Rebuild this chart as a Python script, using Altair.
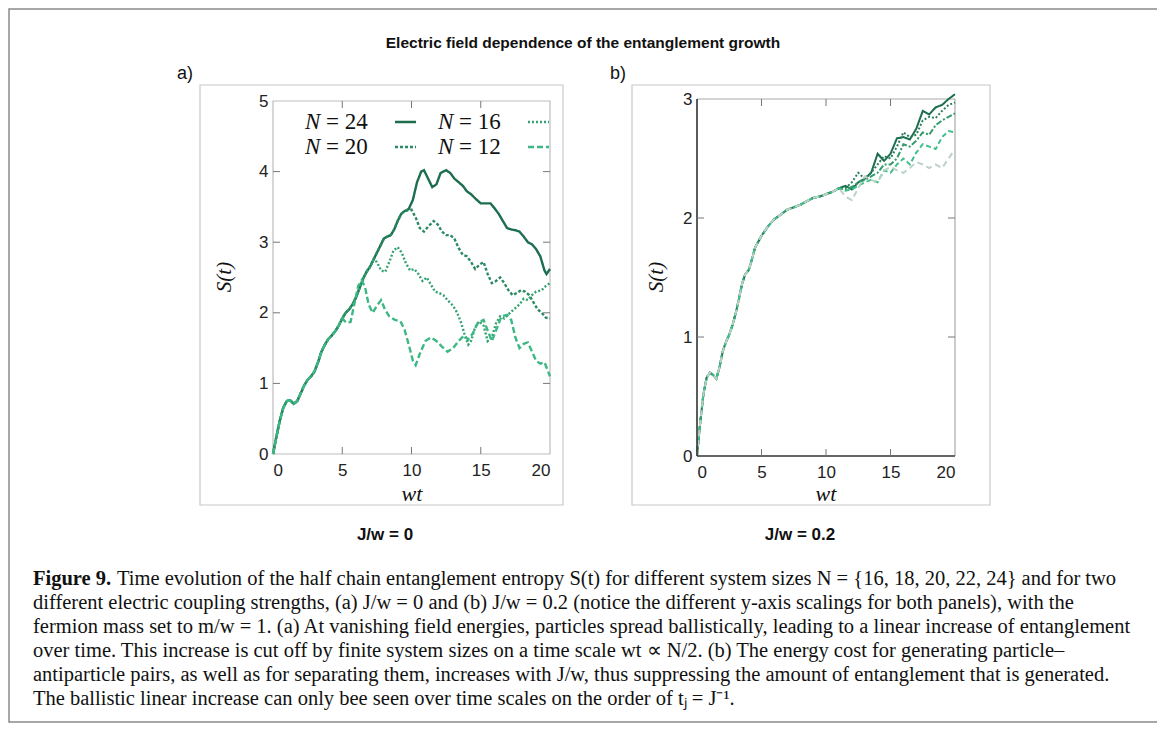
import altair as alt
import pandas as pd

# ---------------- panel (a): J/w = 0 ----------------
t_rise_a = [0, 0.25, 0.5, 0.75, 1.0, 1.25, 1.5, 1.75, 2.0, 2.25, 2.5, 2.75, 3.0,
            3.25, 3.5, 3.75, 4.0, 4.25, 4.5, 4.75, 5.0]
s_rise_a = [0, 0.25, 0.48, 0.66, 0.75, 0.76, 0.71, 0.75, 0.86, 0.97, 1.05, 1.1, 1.17,
            1.3, 1.45, 1.55, 1.63, 1.68, 1.74, 1.82, 1.92]
t_mid_a = [5.25, 5.5, 5.75, 6.0, 6.25, 6.5, 6.75, 7.0, 7.25]
s_mid_a = [2.0, 2.05, 2.12, 2.22, 2.35, 2.48, 2.58, 2.65, 2.75]
t_hi_a = [7.5, 7.75, 8.0, 8.25, 8.5, 8.75, 9.0, 9.25, 9.5]
s_hi_a = [2.85, 2.95, 3.05, 3.08, 3.1, 3.18, 3.3, 3.4, 3.44]

t_a24 = [9.8, 10.1, 10.4, 10.7, 10.9, 11.2, 11.5, 11.8, 12.1, 12.5, 12.8, 13.1, 13.4,
         13.7, 14.0, 14.3, 14.6, 15.0, 15.3, 15.7, 16.0, 16.3, 16.6, 16.9, 17.2, 17.5,
         17.8, 18.1, 18.4, 18.7, 19.0, 19.3, 19.6, 19.75, 20.0]
s_a24 = [3.47, 3.6, 3.85, 4.0, 4.02, 3.9, 3.78, 3.82, 3.98, 4.02, 3.98, 3.9, 3.85,
         3.8, 3.72, 3.68, 3.62, 3.55, 3.55, 3.55, 3.48, 3.4, 3.3, 3.2, 3.18, 3.17,
         3.15, 3.08, 3.0, 2.97, 2.9, 2.8, 2.6, 2.55, 2.62]

t_a20 = [9.75, 10.0, 10.3, 10.6, 10.9, 11.2, 11.6, 11.9, 12.2, 12.5, 12.8, 13.1, 13.4,
         13.7, 14.0, 14.3, 14.6, 14.9, 15.2, 15.5, 15.8, 16.1, 16.4, 16.7, 17.0, 17.3,
         17.6, 17.9, 18.2, 18.5, 18.8, 19.1, 19.4, 19.7, 20.0]
s_a20 = [3.45, 3.46, 3.35, 3.2, 3.15, 3.22, 3.3, 3.25, 3.15, 3.1, 3.1, 3.05, 2.92,
         2.82, 2.8, 2.72, 2.62, 2.68, 2.72, 2.55, 2.42, 2.45, 2.5, 2.42, 2.32, 2.25,
         2.28, 2.32, 2.3, 2.25, 2.15, 2.05, 2.0, 1.93, 1.92]

t_a16 = [7.5, 7.8, 8.1, 8.4, 8.7, 9.0, 9.3, 9.6, 9.9, 10.2, 10.5, 10.8, 11.1, 11.4,
         11.7, 12.0, 12.3, 12.6, 13.0, 13.3, 13.6, 13.9, 14.1, 14.3, 14.6, 14.9, 15.2,
         15.5, 15.8, 16.1, 16.4, 16.7, 17.0, 17.4, 17.8, 18.1, 18.4, 18.7, 19.0, 19.4,
         19.7, 20.0]
s_a16 = [2.72, 2.6, 2.58, 2.72, 2.88, 2.93, 2.85, 2.7, 2.6, 2.62, 2.55, 2.45, 2.5, 2.4,
         2.3, 2.28, 2.25, 2.18, 2.1, 2.0, 1.85, 1.65, 1.55, 1.6, 1.8, 1.88, 1.82,
         1.6, 1.65, 1.85, 1.95, 1.92, 1.98, 2.05, 2.12, 2.2, 2.18, 2.25, 2.3, 2.32,
         2.38, 2.42]

t_a12 = [5.3, 5.6, 5.9, 6.15, 6.4, 6.65, 6.9, 7.2, 7.5, 7.8, 8.1, 8.4, 8.8, 9.2, 9.5,
         9.8, 10.1, 10.3, 10.6, 11.0, 11.4, 11.8, 12.2, 12.6, 13.0, 13.4, 13.8, 14.1,
         14.4, 14.8, 15.2, 15.5, 15.8, 16.1, 16.5, 16.9, 17.2, 17.5, 17.8, 18.1, 18.4,
         18.7, 19.0, 19.3, 19.6, 19.8, 20.0]
s_a12 = [1.86, 1.87, 2.15, 2.38, 2.46, 2.36, 2.12, 2.0, 2.1, 2.18, 2.04, 1.95, 1.9, 1.88,
         1.76, 1.55, 1.32, 1.26, 1.42, 1.6, 1.65, 1.6, 1.52, 1.45, 1.5, 1.6, 1.68, 1.62,
         1.7, 1.86, 1.9, 1.75, 1.6, 1.75, 1.95, 1.97, 1.9, 1.65, 1.5, 1.56, 1.58,
         1.45, 1.32, 1.28, 1.3, 1.2, 1.1]

# ---------------- panel (b): J/w = 0.2 ----------------
t_rise_b = [0, 0.25, 0.5, 0.75, 1.0, 1.25, 1.5, 1.75, 2.0, 2.25, 2.5, 2.75, 3.0, 3.25,
            3.5, 3.75, 4.0, 4.25, 4.5, 4.75, 5.0, 5.5, 6.0, 6.5, 7.0, 7.5, 8.0, 8.5,
            9.0, 9.5, 10.0, 10.5, 11.0]
s_rise_b = [0, 0.28, 0.52, 0.66, 0.7, 0.68, 0.65, 0.75, 0.88, 0.96, 1.02, 1.1, 1.2, 1.32,
            1.45, 1.53, 1.56, 1.65, 1.75, 1.8, 1.85, 1.93, 1.99, 2.03, 2.07, 2.09, 2.11,
            2.14, 2.17, 2.18, 2.2, 2.22, 2.25]
t_tail_b = [11.5, 12.0, 12.5, 13.0, 13.5, 14.0, 14.5, 15.0, 15.5, 16.0, 16.5, 17.0,
            17.5, 18.0, 18.5, 19.0, 19.5, 20.0]
s_b24 = [2.27, 2.24, 2.3, 2.33, 2.38, 2.54, 2.48, 2.54, 2.67, 2.68, 2.66, 2.75, 2.9,
         2.87, 2.93, 2.95, 3.0, 3.04]
s_b22 = [2.25, 2.3, 2.38, 2.33, 2.38, 2.45, 2.52, 2.5, 2.6, 2.72, 2.68, 2.7, 2.82,
         2.85, 2.84, 2.9, 2.95, 2.97]
s_b20 = [2.24, 2.26, 2.3, 2.32, 2.35, 2.38, 2.45, 2.45, 2.5, 2.62, 2.6, 2.65, 2.72,
         2.7, 2.78, 2.82, 2.85, 2.88]
s_b18 = [2.23, 2.24, 2.27, 2.3, 2.32, 2.3, 2.4, 2.38, 2.45, 2.5, 2.45, 2.55, 2.62,
         2.6, 2.58, 2.68, 2.73, 2.72]
s_b16 = [2.18, 2.15, 2.25, 2.35, 2.32, 2.3, 2.4, 2.43, 2.4, 2.38, 2.42, 2.47, 2.45,
         2.42, 2.45, 2.42, 2.5, 2.58]

series_a = ["N = 24", "N = 20", "N = 16", "N = 12"]
series_b = ["N = 24", "N = 22", "N = 20", "N = 18", "N = 16"]

rows_a = []
for name, t, s in [
    ("N = 24", t_rise_a + t_mid_a + t_hi_a + t_a24, s_rise_a + s_mid_a + s_hi_a + s_a24),
    ("N = 20", t_rise_a + t_mid_a + t_hi_a + t_a20, s_rise_a + s_mid_a + s_hi_a + s_a20),
    ("N = 16", t_rise_a + t_mid_a + t_a16, s_rise_a + s_mid_a + s_a16),
    ("N = 12", t_rise_a + t_a12, s_rise_a + s_a12),
]:
    rows_a += [{"N": name, "t": a, "S": b} for a, b in zip(t, s)]
df_a = pd.DataFrame(rows_a)

rows_b = []
for name, s in [("N = 24", s_b24), ("N = 22", s_b22), ("N = 20", s_b20),
                ("N = 18", s_b18), ("N = 16", s_b16)]:
    t = t_rise_b + t_tail_b
    v = s_rise_b + s
    rows_b += [{"N": name, "t": a, "S": b} for a, b in zip(t, v)]
df_b = pd.DataFrame(rows_b)

x_ticks = [5, 10, 15]
y_ticks_a = [1, 2, 3, 4]
y_ticks_b = [1, 2]

W, H = 1149, 715
# plot-area pixel boxes (canvas coordinates)
AX0, AX1, AY0, AY1 = 265, 542, 93, 446
BX0, BX1, BY0, BY1 = 689, 947, 91, 448

LAB = dict(labelFontSize=17, labelFont="Liberation Sans", labelColor="#222222",
           domain=False, ticks=False, grid=False, title=None, format="d")

xa = alt.Scale(domain=[0, 20], range=[AX0, AX1], nice=False, zero=False)
ya = alt.Scale(domain=[0, 5], range=[AY1, AY0], nice=False, zero=False)
xb = alt.Scale(domain=[0, 20], range=[BX0, BX1], nice=False, zero=False)
yb = alt.Scale(domain=[0, 3], range=[BY1, BY0], nice=False, zero=False)

one = alt.Data(values=[{}])


def txt(x, y, s, size, font="Liberation Sans", weight="normal", style="normal",
        align="center", angle=0, color="#111111", baseline="middle"):
    kw = dict(align=align, baseline=baseline, font=font, fontSize=size,
              fontWeight=weight, fontStyle=style, color=color, text=s)
    if angle:
        kw["angle"] = angle
    return alt.Chart(one).mark_text(**kw).encode(x=alt.value(x), y=alt.value(y))


def box(x0, y0, x1, y1, color, width=1.0):
    return alt.Chart(one).mark_rect(fill=None, stroke=color, strokeWidth=width).encode(
        x=alt.value(x0), x2=alt.value(x1), y=alt.value(y0), y2=alt.value(y1))


def hline(x0, x1, y, color, width=1.0, dash=None):
    kw = dict(color=color, strokeWidth=width)
    if dash:
        kw["strokeDash"] = dash
    return alt.Chart(one).mark_rule(**kw).encode(
        x=alt.value(x0), x2=alt.value(x1), y=alt.value(y))


def vline(x, y0, y1, color, width=1.0):
    return alt.Chart(one).mark_rule(color=color, strokeWidth=width).encode(
        x=alt.value(x), y=alt.value(y0), y2=alt.value(y1))


# ---------------- panel (a) ----------------
col_a = ["#1d6e4e", "#2a8a62", "#33a271", "#3cb884"]
dash_a = [[1, 0], [3, 2], [2, 2], [6, 3]]

lines_a = alt.Chart(df_a).mark_line(strokeWidth=2.4).encode(
    x=alt.X("t:Q", scale=xa,
            axis=alt.Axis(orient="bottom", offset=AY1 - H, values=[0, 5, 10, 15, 20],
                          labelPadding=8, **LAB)),
    y=alt.Y("S:Q", scale=ya,
            axis=alt.Axis(orient="left", offset=-AX0, values=[0, 1, 2, 3, 4, 5],
                          labelPadding=5, **LAB)),
    color=alt.Color("N:N", scale=alt.Scale(domain=series_a, range=col_a), legend=None),
    strokeDash=alt.StrokeDash("N:N", scale=alt.Scale(domain=series_a, range=dash_a),
                              legend=None),
    order=alt.Order("t:Q"),
)

tk_a = pd.DataFrame({"v": x_ticks})
tky_a = pd.DataFrame({"v": y_ticks_a})
TK = "#777777"
ticks_a = [
    alt.Chart(tk_a).mark_rule(color=TK).encode(
        x=alt.X("v:Q", scale=xa), y=alt.value(AY1), y2=alt.value(AY1 - 7)),
    alt.Chart(tk_a).mark_rule(color=TK).encode(
        x=alt.X("v:Q", scale=xa), y=alt.value(AY0), y2=alt.value(AY0 + 7)),
    alt.Chart(tky_a).mark_rule(color=TK).encode(
        y=alt.Y("v:Q", scale=ya), x=alt.value(AX0), x2=alt.value(AX0 + 7)),
    alt.Chart(tky_a).mark_rule(color=TK).encode(
        y=alt.Y("v:Q", scale=ya), x=alt.value(AX1), x2=alt.value(AX1 - 7)),
]

panel_a = alt.layer(box(AX0, AY0, AX1, AY1, "#bdbdbd", 1.2), lines_a, *ticks_a)

# ---------------- panel (b) ----------------
col_b = ["#1d6e4e", "#2a7f5b", "#33996b", "#3fbf8b", "#bcd2c7"]
dash_b = [[1, 0], [2, 2], [6, 2, 2, 2], [5, 3], [6, 4]]

lines_b = alt.Chart(df_b).mark_line(strokeWidth=2.0).encode(
    x=alt.X("t:Q", scale=xb,
            axis=alt.Axis(orient="bottom", offset=BY1 - H, values=[0, 5, 10, 15, 20],
                          labelPadding=8, **LAB)),
    y=alt.Y("S:Q", scale=yb,
            axis=alt.Axis(orient="left", offset=-BX0, values=[0, 1, 2, 3],
                          labelPadding=5, **LAB)),
    color=alt.Color("N:N", scale=alt.Scale(domain=series_b, range=col_b), legend=None),
    strokeDash=alt.StrokeDash("N:N", scale=alt.Scale(domain=series_b, range=dash_b),
                              legend=None),
    order=alt.Order("t:Q"),
)

tky_b = pd.DataFrame({"v": y_ticks_b})
ticks_b = [
    alt.Chart(tk_a).mark_rule(color=TK).encode(
        x=alt.X("v:Q", scale=xb), y=alt.value(BY1), y2=alt.value(BY1 - 7)),
    alt.Chart(tk_a).mark_rule(color=TK).encode(
        x=alt.X("v:Q", scale=xb), y=alt.value(BY0), y2=alt.value(BY0 + 7)),
    alt.Chart(tky_b).mark_rule(color=TK).encode(
        y=alt.Y("v:Q", scale=yb), x=alt.value(BX0), x2=alt.value(BX0 + 7)),
    alt.Chart(tky_b).mark_rule(color=TK).encode(
        y=alt.Y("v:Q", scale=yb), x=alt.value(BX1), x2=alt.value(BX1 - 7)),
]

panel_b = alt.layer(
    hline(BX0, BX1, BY0, "#aaaaaa", 1.2), vline(BX1, BY0, BY1, "#aaaaaa", 1.2),
    lines_b,
    hline(BX0, BX1, BY1, "#333333", 1.6), vline(BX0, BY0, BY1, "#333333", 1.6),
    *ticks_b)

# ---------------- decorations & text ----------------
SERIF = "Liberation Serif"
deco = [
    box(1, 1, 1152, 714, "#8a8a8a", 1.5),
    box(192, 77, 555, 497, "#c8c8c8", 1.2),
    box(624, 77, 982, 497, "#c8c8c8", 1.2),
    txt(575, 35, "Electric field dependence of the entanglement growth", 15.5, weight="bold"),
    txt(177, 66, "a)", 18),
    txt(610, 66, "b)", 18),
    txt(377, 527, "J/w = 0", 17, weight="bold"),
    txt(792, 527, "J/w = 0.2", 17, weight="bold"),
    txt(404, 486, "wt", 22, font=SERIF, style="italic"),
    txt(818, 486, "wt", 22, font=SERIF, style="italic"),
    txt(217, 269, "S(t)", 21, font=SERIF, style="italic", angle=270),
    txt(649, 269, "S(t)", 21, font=SERIF, style="italic", angle=270),
]

# legend of panel (a)
leg = []
leg_pos = [(297, 114), (297, 139), (430, 114), (430, 139)]
for (lx, ly), name, c, d in zip(leg_pos, series_a, col_a, dash_a):
    leg.append(txt(lx, ly, "N", 23, font=SERIF, style="italic", align="left"))
    leg.append(txt(lx + 21, ly, "= " + name.split("= ")[1], 23, font=SERIF, align="left"))
    leg.append(hline(lx + 90, lx + 111, ly, c, 2.4, d))

# caption
CAP = 20.5
cap_lines = [
    "different electric coupling strengths, (a) J/w = 0 and (b) J/w = 0.2 (notice the different y-axis scalings for both panels), with the",
    "fermion mass set to m/w = 1. (a) At vanishing field energies, particles spread ballistically, leading to a linear increase of entanglement",
    "over time. This increase is cut off by finite system sizes on a time scale wt \u221d N/2. (b) The energy cost for generating particle\u2013",
    "antiparticle pairs, as well as for separating them, increases with J/w, thus suppressing the amount of entanglement that is generated.",
    "The ballistic linear increase can only bee seen over time scales on the order of t\u2C7C = J\u207b\u00b9.",
]
cap = [
    txt(25, 571, "Figure 9.", CAP, font=SERIF, weight="bold", align="left"),
    txt(109, 571, "Time evolution of the half chain entanglement entropy S(t) for different system sizes N = {16, 18, 20, 22, 24} and for two",
        CAP, font=SERIF, align="left"),
]
for i, line in enumerate(cap_lines):
    cap.append(txt(25, 595 + 24 * i, line, CAP, font=SERIF, align="left"))

chart = alt.layer(
    panel_a, panel_b, *deco, *leg, *cap
).resolve_scale(
    x="independent", y="independent", color="independent", strokeDash="independent"
).properties(
    width=W, height=H, autosize="none", padding=0
).configure_view(stroke=None)

chart.save("out.html", embed_options={"renderer": "svg", "actions": False})
